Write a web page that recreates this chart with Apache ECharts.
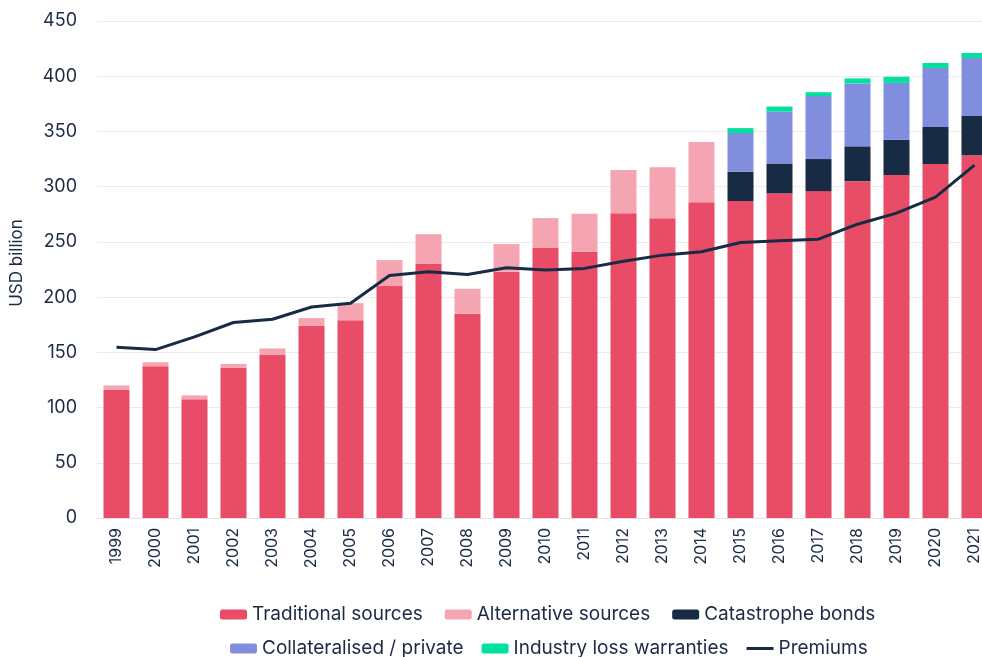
<!DOCTYPE html>
<html>
<head>
<meta charset="utf-8">
<script src="https://cdn.jsdelivr.net/npm/echarts@6/dist/echarts.min.js"></script>
<style>
  html, body { margin: 0; padding: 0; background: #fff; }
  #chart { width: 982px; height: 657px; }
</style>
</head>
<body>
<div id="chart"></div>
<script>
// categories
var years = ['1999','2000','2001','2002','2003','2004','2005','2006','2007','2008','2009','2010',
             '2011','2012','2013','2014','2015','2016','2017','2018','2019','2020','2021'];

// stacked capital, USD billion
var traditional = [116, 137.5, 107.5, 136, 147.5, 174, 179, 210, 230, 185, 223, 245,
                   241, 276, 271.5, 286, 287, 294, 296, 305, 310.5, 320.5, 328.5];
var alternative = [4, 3.5, 3.5, 3.5, 6, 7, 15.5, 23.5, 27, 22.5, 25, 26.5,
                   34.5, 39, 46, 54.5, null, null, null, null, null, null, null];
var catBonds = [null, null, null, null, null, null, null, null, null, null, null, null,
                null, null, null, null, 26.5, 27, 29, 31.5, 32, 33.5, 35.5];
var collateralised = [null, null, null, null, null, null, null, null, null, null, null, null,
                      null, null, null, null, 35, 47, 57, 57, 51.5, 53.5, 52.5];
var ilw = [null, null, null, null, null, null, null, null, null, null, null, null,
           null, null, null, null, 4.5, 4.5, 3.5, 4.5, 5.5, 4.5, 4.5];

// premiums line
var premiums = [154.5, 152.5, 164, 177, 180, 191, 194.5, 219.5, 223, 220.5, 226.5, 224.5,
                226, 232.5, 238, 241, 249.5, 251, 252.5, 266, 276, 290.5, 319.5];

var yTicks = [0, 450, 50]; // min, max, interval

var textColor = '#1c2a44';
var fontName = 'Inter';

var chart = echarts.init(document.getElementById('chart'));

function barSeries(name, data, color) {
    return {
        name: name,
        type: 'bar',
        stack: 'capital',
        barWidth: 26,
        itemStyle: { color: color },
        data: data
    };
}

var legendText = { fontSize: 19, color: textColor, fontFamily: fontName };

chart.setOption({
    animation: false,
    textStyle: { fontFamily: fontName },
    grid: {
        left: 97,
        top: 21,
        width: 897,
        height: 497,
        outerBoundsMode: 'none'
    },
    legend: [{
        left: 215,
        top: 600,
        itemWidth: 27,
        itemHeight: 10,
        itemGap: 22,
        textStyle: legendText,
        data: ['Traditional sources', 'Alternative sources', 'Catastrophe bonds']
    }, {
        left: 225,
        top: 634,
        itemWidth: 27,
        itemHeight: 10,
        itemGap: 18,
        symbolKeepAspect: true,
        textStyle: legendText,
        data: ['Collateralised / private', 'Industry loss warranties',
               { name: 'Premiums', icon: 'path://M0,0 L27,0 L27,3 L0,3 Z' }]
    }],
    xAxis: {
        type: 'category',
        data: years,
        axisTick: { show: false },
        axisLine: { lineStyle: { color: '#e3e3e3', width: 1 } },
        axisLabel: {
            rotate: 90,
            margin: 10,
            fontSize: 16,
            color: textColor,
            fontFamily: fontName
        }
    },
    yAxis: {
        type: 'value',
        min: yTicks[0],
        max: yTicks[1],
        interval: yTicks[2],
        name: 'USD billion',
        nameLocation: 'middle',
        nameGap: 72,
        nameTextStyle: {
            fontSize: 17,
            color: textColor,
            fontFamily: fontName,
            padding: [0, 0, 0, 13]
        },
        axisLine: { show: false },
        axisTick: { show: false },
        axisLabel: { margin: 20, fontSize: 18, color: textColor, fontFamily: fontName },
        splitLine: { lineStyle: { color: '#ececec', width: 1 } }
    },
    series: [
        barSeries('Traditional sources', traditional, '#e84c66'),
        barSeries('Alternative sources', alternative, '#f4a5b1'),
        barSeries('Catastrophe bonds', catBonds, '#172b45'),
        barSeries('Collateralised / private', collateralised, '#818ddd'),
        barSeries('Industry loss warranties', ilw, '#00e19f'),
        {
            name: 'Premiums',
            type: 'line',
            symbol: 'none',
            lineStyle: { color: '#172b45', width: 3 },
            itemStyle: { color: '#172b45' },
            z: 5,
            data: premiums
        }
    ]
});
</script>
</body>
</html>
